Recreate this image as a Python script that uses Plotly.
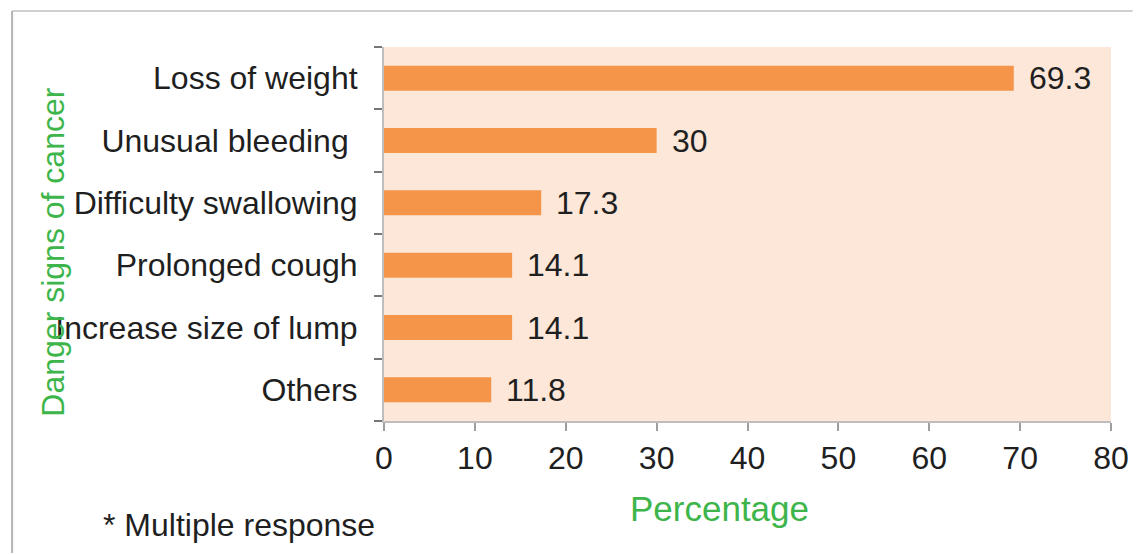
import plotly.graph_objects as go

categories = ["Loss of weight", "Unusual bleeding ", "Difficulty swallowing", "Prolonged cough",
              "Increase size of lump", "Others"]
values = [69.3, 30, 17.3, 14.1, 14.1, 11.8]
x_ticks = [0, 10, 20, 30, 40, 50, 60, 70, 80]

W, H = 1141, 555
L, R, T, B = 384, 22, 47, 134
pw, ph = W - L - R, H - T - B

def px(x):
    return (x - L) / pw

def py(y):
    return (H - B - y) / ph

FONT = "Liberation Sans, Arial, sans-serif"
GREEN = "#3DB54A"
TEXT = "#1f1f1f"

fig = go.Figure(go.Bar(
    x=values, y=categories, orientation="h",
    marker=dict(color="#F4954A", line=dict(width=0)),
    width=0.4,
))

for c, v in zip(categories, values):
    fig.add_annotation(x=v, y=c, text=f"{v:g}", showarrow=False, xanchor="left",
                       yanchor="middle", xshift=13,
                       font=dict(family=FONT, size=32, color=TEXT))

fig.update_layout(
    width=W, height=H,
    margin=dict(l=L, r=R, t=T, b=B),
    paper_bgcolor="white", plot_bgcolor="#FCE7D8",
    showlegend=False,
    font=dict(family=FONT, size=32, color=TEXT),
    xaxis=dict(range=[0, 80], tickvals=x_ticks, showgrid=False, zeroline=False,
               showline=True, linecolor="#BDBDBD", linewidth=2,
               ticks="outside", ticklen=8, tickcolor="#9E9E9E", tickwidth=2,
               tickfont=dict(family=FONT, size=32, color=TEXT)),
    yaxis=dict(categoryorder="array", categoryarray=categories[::-1],
               showgrid=False, zeroline=False, showline=True, linecolor="#BDBDBD", linewidth=2,
               ticks="outside", ticklen=8, tickcolor="#777777", tickwidth=2,
               tickson="boundaries", ticklabelstandoff=18,
               tickfont=dict(family=FONT, size=32, color=TEXT)),
    bargap=0.6,
)

fig.add_annotation(xref="paper", yref="paper", x=px(723), y=py(508), text="Percentage",
                   showarrow=False, font=dict(family=FONT, size=35, color=GREEN),
                   xanchor="center", yanchor="middle")
fig.add_annotation(xref="paper", yref="paper", x=px(49), y=py(252), text="Danger signs of cancer",
                   showarrow=False, textangle=-90, font=dict(family=FONT, size=32, color=GREEN),
                   xanchor="center", yanchor="middle")
fig.add_annotation(xref="paper", yref="paper", x=px(98), y=py(525), text="* Multiple response",
                   showarrow=False, font=dict(family=FONT, size=32, color=TEXT),
                   xanchor="left", yanchor="middle")

# outer frame (top and left borders)
fig.add_shape(type="line", xref="paper", yref="paper", x0=px(8), x1=px(1141), y0=py(11), y1=py(11),
              line=dict(color="#D0D0D0", width=2))
fig.add_shape(type="line", xref="paper", yref="paper", x0=px(8), x1=px(8), y0=py(11), y1=py(553),
              line=dict(color="#B5B5B5", width=2))

fig.write_html("out.html")
